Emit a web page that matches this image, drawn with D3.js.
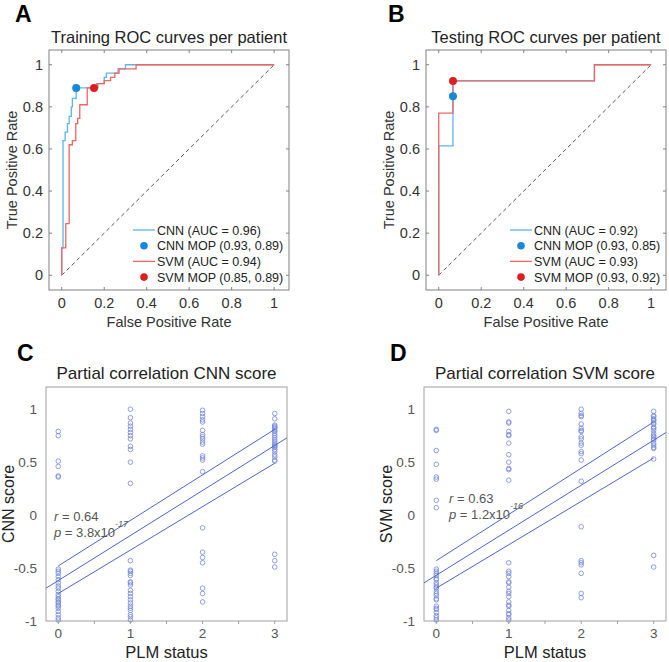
<!DOCTYPE html>
<html>
<head>
<meta charset="utf-8">
<script src="https://d3js.org/d3.v7.min.js"></script>
<style>
  body { margin: 0; background: #fff; }
  svg { font-family: 'Liberation Sans', Arial, sans-serif; }
</style>
</head>
<body>
<svg width="669" height="662"></svg>
<script>
// ROC data (fpr, tpr)
var rocTicks = [0, 0.2, 0.4, 0.6, 0.8, 1]
var trainCnnRoc = [[0,0],[0,0.13],[0.006,0.13],[0.006,0.64],[0.016,0.64],[0.016,0.68],[0.027,0.68],[0.027,0.72],[0.035,0.72],[0.035,0.755],[0.045,0.755],[0.045,0.80],[0.05,0.80],[0.05,0.84],[0.068,0.84],[0.068,0.89],[0.164,0.89],[0.164,0.91],[0.2,0.91],[0.2,0.94],[0.21,0.94],[0.21,0.96],[0.265,0.96],[0.265,0.98],[0.30,0.98],[0.30,1],[1,1]]
var trainSvmRoc = [[0,0],[0,0.13],[0.019,0.13],[0.019,0.245],[0.035,0.245],[0.035,0.62],[0.05,0.62],[0.05,0.64],[0.066,0.64],[0.066,0.72],[0.075,0.72],[0.075,0.745],[0.085,0.745],[0.085,0.81],[0.12,0.81],[0.12,0.89],[0.17,0.89],[0.17,0.91],[0.2,0.91],[0.2,0.925],[0.23,0.925],[0.23,0.94],[0.25,0.94],[0.25,0.96],[0.27,0.96],[0.27,0.98],[0.35,0.98],[0.35,1],[1,1]]
var testCnnRoc = [[0,0],[0,0.615],[0.067,0.615],[0.067,0.923],[0.733,0.923],[0.733,1],[1,1]]
var testSvmRoc = [[0,0],[0,0.77],[0.067,0.77],[0.067,0.923],[0.733,0.923],[0.733,1],[1,1]]
var trainCnnMop = [0.068, 0.89]
var trainSvmMop = [0.152, 0.89]
var testCnnMop = [0.067, 0.85]
var testSvmMop = [0.067, 0.923]
var trainLegend = ['CNN (AUC = 0.96)', 'CNN MOP (0.93, 0.89)', 'SVM (AUC = 0.94)', 'SVM MOP (0.85, 0.89)']
var testLegend = ['CNN (AUC = 0.92)', 'CNN MOP (0.93, 0.85)', 'SVM (AUC = 0.93)', 'SVM MOP (0.93, 0.92)']

// partial correlation data, one array per PLM status
var plmStatus = [0, 1, 2, 3]
var plmTicks = [0, 0.5, 1, 1.5, 2, 2.5, 3]
var scoreTicks = [-1, -0.5, 0, 0.5, 1]
var cnnScores = [
  [0.79, 0.75, 0.51, 0.46, 0.37, 0.36, -0.51, -0.53, -0.55, -0.58, -0.61, -0.64, -0.67, -0.69, -0.72, -0.75, -0.77, -0.79, -0.80, -0.82, -0.83, -0.85, -0.86, -0.88, -0.91, -0.94, -0.97, -0.99],
  [1.0, 0.92, 0.87, 0.84, 0.81, 0.78, 0.75, 0.72, 0.65, 0.62, 0.50, 0.30, -0.43, -0.52, -0.53, -0.55, -0.57, -0.63, -0.64, -0.66, -0.71, -0.74, -0.77, -0.80, -0.83, -0.86, -0.88, -0.90, -0.94, -0.96, -0.99],
  [0.99, 0.96, 0.93, 0.90, 0.88, 0.80, 0.76, 0.74, 0.72, 0.69, 0.67, 0.56, 0.54, 0.52, 0.41, -0.12, -0.35, -0.40, -0.45, -0.69, -0.74, -0.82],
  [0.96, 0.91, 0.85, 0.84, 0.83, 0.82, 0.80, 0.79, 0.77, 0.75, 0.73, 0.71, 0.69, 0.67, 0.66, 0.65, 0.64, 0.62, 0.60, 0.57, 0.55, 0.52, 0.51, -0.37, -0.43, -0.49]
]
var svmScores = [
  [0.81, 0.80, 0.61, 0.48, 0.36, 0.34, 0.14, 0.07, -0.51, -0.53, -0.55, -0.57, -0.60, -0.61, -0.64, -0.66, -0.68, -0.69, -0.72, -0.74, -0.76, -0.79, -0.80, -0.86, -0.88, -0.89, -0.92, -0.95, -0.97, -0.99],
  [0.98, 0.88, 0.87, 0.79, 0.76, 0.75, 0.68, 0.57, 0.50, 0.44, 0.43, 0.33, -0.45, -0.53, -0.55, -0.58, -0.63, -0.64, -0.68, -0.72, -0.74, -0.77, -0.82, -0.85, -0.86, -0.90, -0.93, -0.94, -0.97, -0.99],
  [1.0, 0.96, 0.94, 0.93, 0.86, 0.82, 0.80, 0.79, 0.74, 0.72, 0.68, 0.66, 0.60, 0.58, 0.52, 0.32, -0.11, -0.43, -0.45, -0.47, -0.55, -0.74, -0.78],
  [0.98, 0.94, 0.93, 0.91, 0.90, 0.89, 0.87, 0.86, 0.83, 0.82, 0.80, 0.77, 0.75, 0.74, 0.72, 0.71, 0.68, 0.66, 0.64, 0.63, 0.53, -0.38, -0.49]
]
var cnnFit = [[-0.17, -0.69], [3.17, 0.73]]
var cnnCiUpper = [[0, -0.48], [3, 0.81]]
var cnnCiLower = [[0, -0.74], [3, 0.49]]
var svmFit = [[-0.17, -0.64], [3.17, 0.78]]
var svmCiUpper = [[0, -0.43], [3, 0.88]]
var svmCiLower = [[0, -0.69], [3, 0.54]]

var svg = d3.select('svg')
var cnnLine = '#5bb6ee', cnnDot = '#1788dc', svmLine = '#f06464', svmDot = '#dc1e1e'

function panelLetter(x, y, txt) {
  svg.append('text').attr('x', x).attr('y', y)
    .style('font-size', '23px').style('font-weight', 'bold').attr('fill', '#000').text(txt)
}

function rocPanel(left, top, title, cnnData, svmData, cnnMop, svmMop, legend) {
  var w = 240, h = 240
  var x = d3.scaleLinear().domain([-0.06, 1.07]).range([left, left + w])
  var y = d3.scaleLinear().domain([-0.07, 1.07]).range([top + h, top])
  var g = svg.append('g')
  var axisColor = '#808080'

  g.append('rect').attr('x', left).attr('y', top).attr('width', w).attr('height', h)
    .attr('fill', 'none').attr('stroke', axisColor).attr('stroke-width', 1)

  // inward ticks on all four sides
  rocTicks.forEach(function(t) {
    g.append('line').attr('x1', x(t)).attr('x2', x(t)).attr('y1', top + h).attr('y2', top + h - 3).attr('stroke', axisColor)
    g.append('line').attr('x1', x(t)).attr('x2', x(t)).attr('y1', top).attr('y2', top + 3).attr('stroke', axisColor)
    g.append('line').attr('y1', y(t)).attr('y2', y(t)).attr('x1', left).attr('x2', left + 3).attr('stroke', axisColor)
    g.append('line').attr('y1', y(t)).attr('y2', y(t)).attr('x1', left + w).attr('x2', left + w - 3).attr('stroke', axisColor)
    g.append('text').attr('x', x(t)).attr('y', top + h + 18).attr('text-anchor', 'middle')
      .style('font-size', '14.5px').attr('fill', '#333').text(t)
    g.append('text').attr('x', left - 6).attr('y', y(t) + 5).attr('text-anchor', 'end')
      .style('font-size', '14.5px').attr('fill', '#333').text(t)
  })

  g.append('line').attr('x1', x(0)).attr('y1', y(0)).attr('x2', x(1)).attr('y2', y(1))
    .attr('stroke', '#555').attr('stroke-dasharray', '4,3').attr('stroke-width', 1)

  var line = d3.line().x(function(d) { return x(d[0]) }).y(function(d) { return y(d[1]) })
  g.append('path').datum(cnnData).attr('d', line).attr('fill', 'none').attr('stroke', cnnLine).attr('stroke-width', 1.3)
  g.append('path').datum(svmData).attr('d', line).attr('fill', 'none').attr('stroke', svmLine).attr('stroke-width', 1.3)
  g.append('circle').attr('cx', x(cnnMop[0])).attr('cy', y(cnnMop[1])).attr('r', 4).attr('fill', cnnDot)
  g.append('circle').attr('cx', x(svmMop[0])).attr('cy', y(svmMop[1])).attr('r', 4).attr('fill', svmDot)

  // legend
  var lx = left + 84, ly = top + 180
  legend.forEach(function(label, i) {
    var cy = ly + i * 15.7
    if (i % 2 === 0) {
      g.append('line').attr('x1', lx).attr('x2', lx + 22).attr('y1', cy).attr('y2', cy)
        .attr('stroke', i === 0 ? cnnLine : svmLine).attr('stroke-width', 1.3)
    } else {
      g.append('circle').attr('cx', lx + 11).attr('cy', cy).attr('r', 3.8).attr('fill', i === 1 ? cnnDot : svmDot)
    }
    g.append('text').attr('x', lx + 24).attr('y', cy + 4.5).style('font-size', '12.5px').attr('fill', '#222').text(label)
  })

  g.append('text').attr('x', left + w / 2).attr('y', top - 7).attr('text-anchor', 'middle')
    .style('font-size', '16.5px').attr('fill', '#222').text(title)
  g.append('text').attr('x', left + w / 2).attr('y', top + h + 37).attr('text-anchor', 'middle')
    .style('font-size', '14.5px').attr('fill', '#333').text('False Positive Rate')
  g.append('text').attr('transform', 'translate(' + (left - 32) + ',' + (top + h / 2) + ') rotate(-90)')
    .attr('text-anchor', 'middle').style('font-size', '14.5px').attr('fill', '#333').text('True Positive Rate')
}

function corrPanel(left, top, w, title, yLabel, scores, fit, ciUp, ciLow, rText, pText, pExp, annX, annY) {
  var h = 234
  var x = d3.scaleLinear().domain([-0.17, 3.17]).range([left, left + w])
  var y = d3.scaleLinear().domain([-1, 1.21]).range([top + h, top])
  var g = svg.append('g')
  var axisColor = '#a0a0a0'

  g.append('rect').attr('x', left).attr('y', top).attr('width', w).attr('height', h)
    .attr('fill', 'none').attr('stroke', axisColor).attr('stroke-width', 1)

  plmTicks.forEach(function(t) {
    g.append('line').attr('x1', x(t)).attr('x2', x(t)).attr('y1', top + h).attr('y2', top + h + 3).attr('stroke', axisColor)
  })
  plmStatus.forEach(function(t) {
    g.append('text').attr('x', x(t)).attr('y', top + h + 17).attr('text-anchor', 'middle')
      .style('font-size', '13.5px').attr('fill', '#555').text(t)
  })
  scoreTicks.forEach(function(t) {
    g.append('text').attr('x', left - 9).attr('y', y(t) + 4.5).attr('text-anchor', 'end')
      .style('font-size', '13.5px').attr('fill', '#555').text(t)
  })

  var pts = []
  scores.forEach(function(col, i) {
    col.forEach(function(v) { pts.push([plmStatus[i], v]) })
  })
  g.selectAll('circle.pt').data(pts).enter().append('circle').attr('class', 'pt')
    .attr('cx', function(d) { return x(d[0]) }).attr('cy', function(d) { return y(d[1]) })
    .attr('r', 2.3).attr('fill', 'none').attr('stroke', '#7488d8').attr('stroke-width', 0.8)

  var line = d3.line().x(function(d) { return x(d[0]) }).y(function(d) { return y(d[1]) })
  ;[fit, ciUp, ciLow].forEach(function(seg) {
    g.append('path').datum(seg).attr('d', line).attr('fill', 'none').attr('stroke', '#4d66c8').attr('stroke-width', 1)
  })

  var r = g.append('text').attr('x', annX).attr('y', annY).style('font-size', '13px').attr('fill', '#555')
  r.append('tspan').style('font-style', 'italic').text('r')
  r.append('tspan').text(' = ' + rText)
  var p = g.append('text').attr('x', annX).attr('y', annY + 15.5).style('font-size', '13px').attr('fill', '#555')
  p.append('tspan').style('font-style', 'italic').text('p')
  p.append('tspan').text(' = ' + pText)
  p.append('tspan').attr('dy', -10).style('font-size', '9px').style('font-style', 'italic').text(pExp)

  g.append('text').attr('x', left + w / 2).attr('y', top - 8).attr('text-anchor', 'middle')
    .style('font-size', '17px').attr('fill', '#222').text(title)
  g.append('text').attr('x', left + w / 2).attr('y', top + h + 37).attr('text-anchor', 'middle')
    .style('font-size', '16.5px').attr('fill', '#222').text('PLM status')
  g.append('text').attr('transform', 'translate(' + (left - 32) + ',' + (top + h / 2) + ') rotate(-90)')
    .attr('text-anchor', 'middle').style('font-size', '16px').attr('fill', '#222').text(yLabel)
}

panelLetter(15, 22, 'A')
panelLetter(388, 22, 'B')
panelLetter(17, 361, 'C')
panelLetter(390, 361, 'D')

rocPanel(49, 50, 'Training ROC curves per patient', trainCnnRoc, trainSvmRoc, trainCnnMop, trainSvmMop, trainLegend)
rocPanel(426, 50, 'Testing ROC curves per patient', testCnnRoc, testSvmRoc, testCnnMop, testSvmMop, testLegend)
corrPanel(46, 387, 241, 'Partial correlation CNN score', 'CNN score', cnnScores, cnnFit, cnnCiUpper, cnnCiLower, '0.64', '3.8x10', '-17', 54, 521)
corrPanel(424, 387, 242, 'Partial correlation SVM score', 'SVM score', svmScores, svmFit, svmCiUpper, svmCiLower, '0.63', '1.2x10', '-16', 449, 503)
</script>
</body>
</html>
